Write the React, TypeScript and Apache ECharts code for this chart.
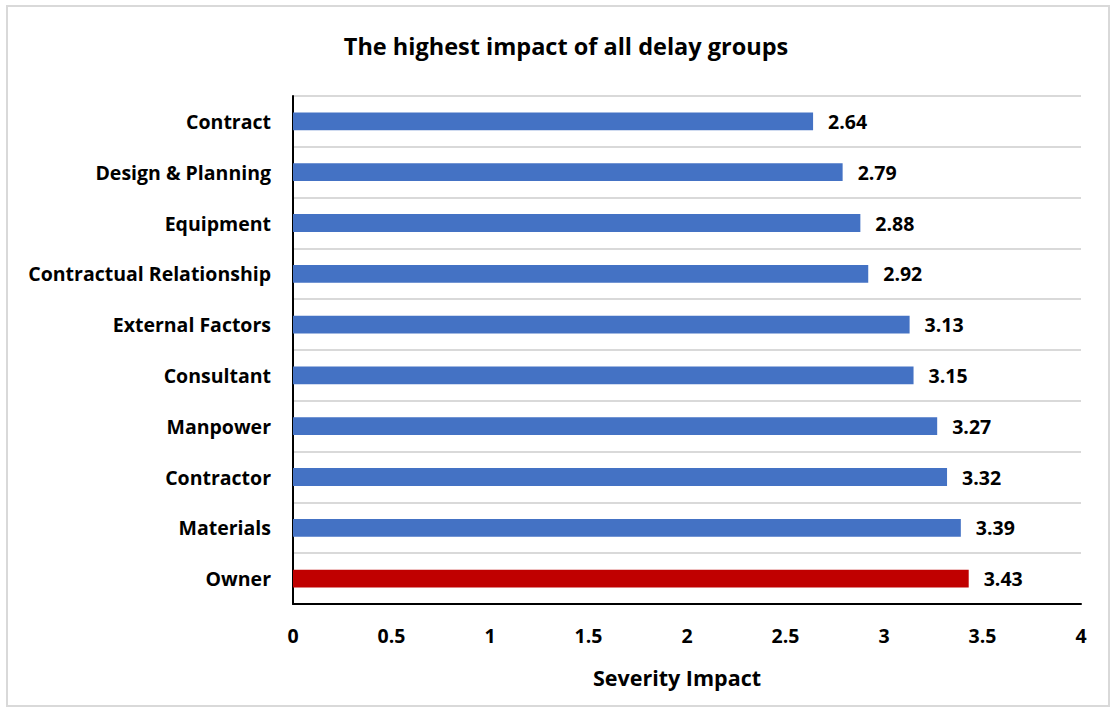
import React, { useEffect, useRef } from "react";
import * as echarts from "echarts";

const categories = [
  "Contract",
  "Design & Planning",
  "Equipment",
  "Contractual Relationship",
  "External Factors",
  "Consultant",
  "Manpower",
  "Contractor",
  "Materials",
  "Owner",
];
const values = [2.64, 2.79, 2.88, 2.92, 3.13, 3.15, 3.27, 3.32, 3.39, 3.43];
const highlight = "Owner";
const xTicks = { min: 0, max: 4, interval: 0.5 };
const FONT = "'Open Sans', 'Noto Sans', sans-serif";

export default function App() {
  const ref = useRef<HTMLDivElement>(null);
  useEffect(() => {
    document.body.style.margin = "0";
    const chart = echarts.init(ref.current!, null, { renderer: "svg" });
    chart.setOption({
      animation: false,
      backgroundColor: "#ffffff",
      textStyle: { fontFamily: FONT },
      title: {
        text: "The highest impact of all delay groups",
        left: 561,
        top: 29,
        textAlign: "center",
        textStyle: { fontFamily: FONT, fontWeight: "bold", fontSize: 23.5, color: "#000" },
      },
      graphic: [
        {
          type: "rect",
          shape: { x: 7, y: 6, width: 1102, height: 700 },
          style: { fill: "none", stroke: "#d9d9d9", lineWidth: 2 },
          silent: true,
        },
      ],
      grid: { left: 293, top: 96, right: 33, bottom: 111, containLabel: false },
      xAxis: {
        type: "value",
        min: xTicks.min,
        max: xTicks.max,
        interval: xTicks.interval,
        name: "Severity Impact",
        nameLocation: "middle",
        nameGap: 62,
        nameTextStyle: {
          fontFamily: FONT,
          fontWeight: "bold",
          fontSize: 21.5,
          color: "#000",
          padding: [0, 20, 0, 0],
        },
        axisLine: { show: true, lineStyle: { color: "#000", width: 2 } },
        axisTick: { show: false },
        splitLine: { show: false },
        axisLabel: { fontFamily: FONT, fontWeight: "bold", fontSize: 19.5, color: "#000", margin: 21 },
      },
      yAxis: {
        type: "category",
        data: categories,
        inverse: true,
        axisLine: { show: true, lineStyle: { color: "#000", width: 2 } },
        axisTick: { show: false },
        splitLine: { show: true, lineStyle: { color: "#d9d9d9", width: 2 } },
        axisLabel: { fontFamily: FONT, fontWeight: "bold", fontSize: 19.5, color: "#000", margin: 22 },
      },
      series: [
        {
          type: "bar",
          data: values.map((v, i) => ({
            value: v,
            itemStyle: { color: categories[i] === highlight ? "#C00000" : "#4472C4" },
          })),
          barWidth: "35%",
          label: {
            show: true,
            position: "right",
            distance: 15,
            fontFamily: FONT,
            fontWeight: "bold",
            fontSize: 19.5,
            color: "#000",
            formatter: (p: any) => p.value.toFixed(2),
          },
        },
      ],
    });
    return () => chart.dispose();
  }, []);
  return <div ref={ref} style={{ width: 1114, height: 715 }} />;
}
